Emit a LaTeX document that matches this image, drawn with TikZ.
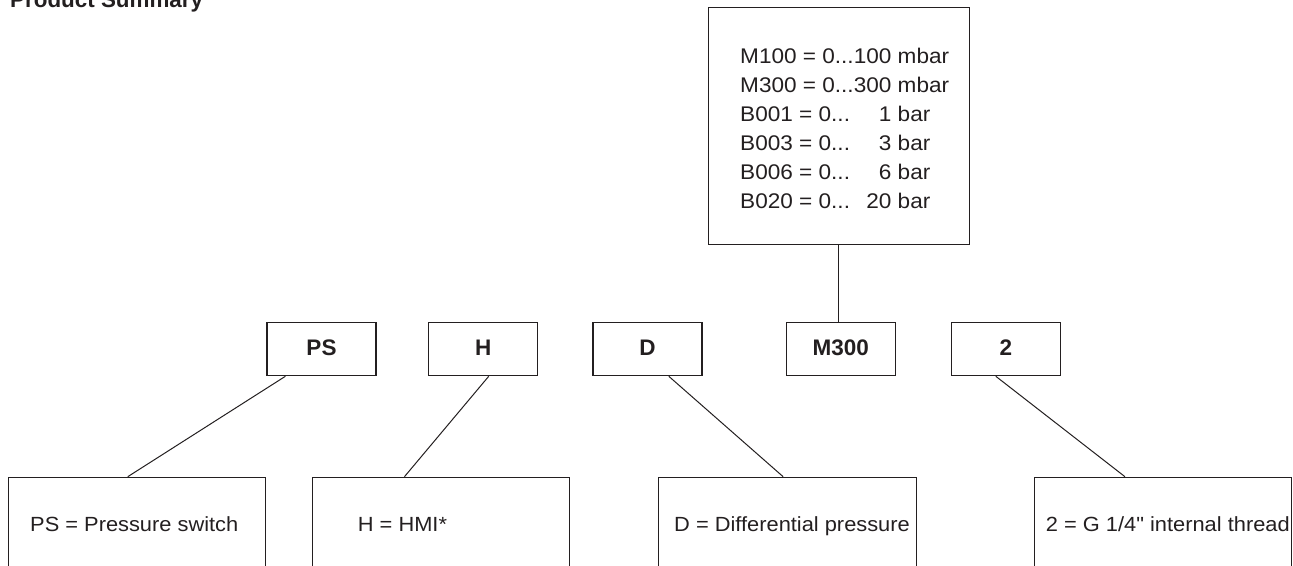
\documentclass[tikz,border=0pt]{standalone}
\usepackage{fontspec}
\setmainfont{Liberation Sans}
\newfontfamily\regfont[FakeStretch=1.065]{Liberation Sans}
\definecolor{ink}{RGB}{35,31,32}
\begin{document}
\begin{tikzpicture}[x=1pt,y=-1pt,
  box/.style={draw=ink, line width=1.1pt, inner sep=0pt},
  code/.style={box, minimum width=109pt, minimum height=53.4pt, text=ink,
    font=\bfseries\fontsize{22.5}{26}\selectfont, text height=13.4pt, text depth=0pt},
  desc/.style={box, anchor=north, minimum width=257.4pt, minimum height=130pt},
  reg/.style={font=\regfont\fontsize{20.5}{29}\selectfont, inner sep=0pt, anchor=base west, text=ink},
  rangefont/.style={font=\regfont\fontsize{21.2}{29}\selectfont},
  link/.style={draw=ink, line width=1pt}]
\useasboundingbox (0,0) rectangle (1293,565);

\node[anchor=base west, inner sep=0pt, text=ink, font=\bfseries\fontsize{22.4}{26}\selectfont] (title) at (10,7) {Product Summary};

% range box
\node[box, minimum width=261pt, minimum height=237pt] (range) at (838.8,125.8) {};
\node[reg, rangefont] (rangetext) at (740,63) {\begin{tabular}[t]{@{}l@{}r@{\ }l@{}}
M100 = 0...&100&mbar\\
M300 = 0...&300&mbar\\
B001 = 0...&1&bar\\
B003 = 0...&3&bar\\
B006 = 0...&6&bar\\
B020 = 0...&20&bar
\end{tabular}};

% code boxes
\node[code] (cPS) at (321.5,349) {PS};
\node[code] (cH) at (483.2,349) {H};
\node[code] (cD) at (647.5,349) {D};
\node[code] (cM) at (840.7,349) {M300};
\node[code] (c2) at (1005.8,349) {2};

% description boxes (open at the bottom edge of the page)
\node[desc] (dPS) at (137,476.7) {};
\node[desc] (dH) at (441,476.7) {};
\node[desc] (dD) at (787.4,476.7) {};
\node[desc] (d2) at (1162.8,476.7) {};

\node[reg] (tPS) at (30,531) {PS = Pressure switch};
\node[reg] (tH) at (357.7,531) {H = HMI*};
\node[reg] (tD) at (674,531) {D = Differential pressure};
\node[reg] (t2) at (1045.7,531) {2 = G 1/4" internal thread};

% connectors
\draw[link] (range.south) -- (range.south |- cM.north);
\draw[link] ([xshift=19pt]cPS.south west) -- ([xshift=120pt]dPS.north west);
\draw[link] ([xshift=60.6pt]cH.south west) -- ([xshift=92.7pt]dH.north west);
\draw[link] ([xshift=76.3pt]cD.south west) -- ([xshift=125pt]dD.north west);
\draw[link] ([xshift=45pt]c2.south west) -- ([xshift=91.4pt]d2.north west);
\end{tikzpicture}
\end{document}
